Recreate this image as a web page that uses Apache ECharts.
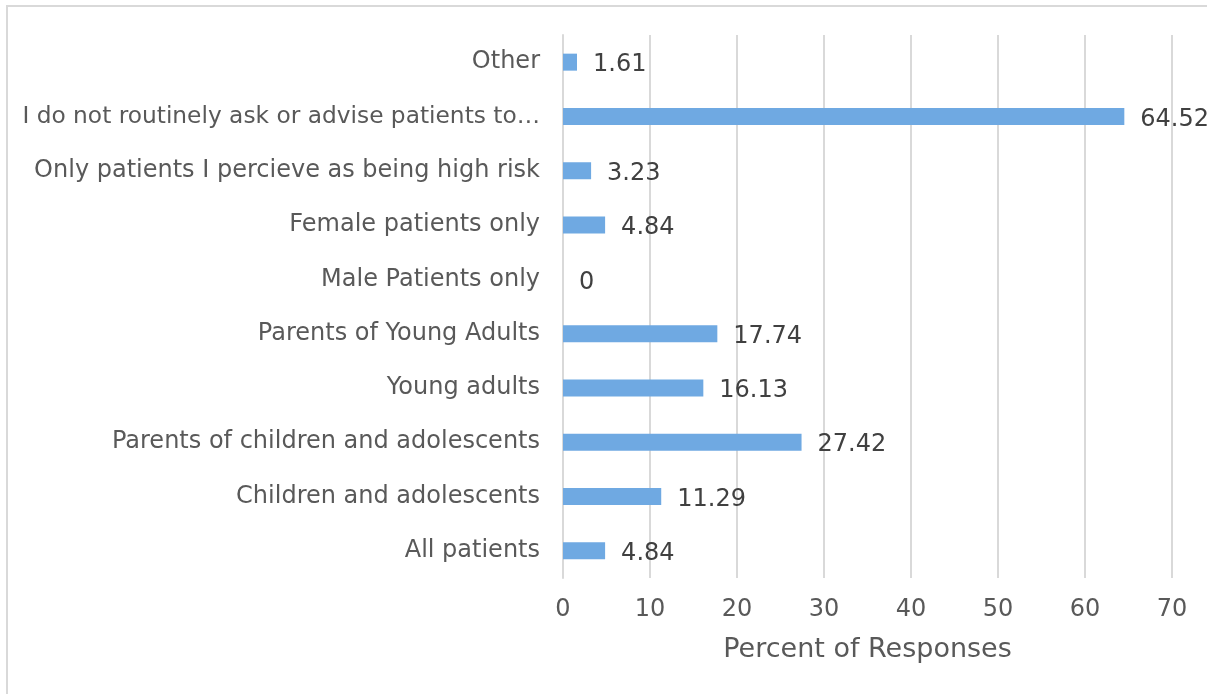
<!DOCTYPE html>
<html><head><meta charset="utf-8">
<script src="https://cdn.jsdelivr.net/npm/echarts@6/dist/echarts.min.js"></script>
<style>
html,body{margin:0;padding:0;background:#fff;}
#c{width:1207px;height:694px;}
#b{position:absolute;left:6px;top:5px;width:1300px;height:800px;border-left:2px solid #d9d9d9;border-top:2px solid #d9d9d9;pointer-events:none;}
</style></head>
<body><div id="c"></div><div id="b"></div>
<script>
const categories = ["All patients","Children and adolescents","Parents of children and adolescents","Young adults","Parents of Young Adults","Male Patients only","Female patients only","Only patients I percieve as being high risk","I do not routinely ask or advise patients to\u2026","Other"];
const values = [4.84,11.29,27.42,16.13,17.74,0,4.84,3.23,64.52,1.61];
const xTicks = [0,10,20,30,40,50,60,70];
const FONT = "DejaVu Sans";
const chart = echarts.init(document.getElementById('c'));
chart.setOption({
  animation:false,
  grid:{left:563,right:35,top:35,bottom:116,containLabel:false},
  xAxis:{type:'value',min:0,max:70,interval:10,
    name:'Percent of Responses',nameLocation:'middle',nameGap:58,
    nameTextStyle:{fontFamily:FONT,fontSize:27,color:'#595959'},
    axisLine:{show:false},axisTick:{show:false},
    axisLabel:{fontFamily:FONT,fontSize:24,color:'#595959',margin:20,formatter:v=>xTicks.includes(v)?String(v):''},
    splitLine:{show:true,lineStyle:{color:'#d9d9d9',width:2}}},
  yAxis:{type:'category',data:categories,
    axisLine:{show:true,lineStyle:{color:'#d9d9d9',width:2}},axisTick:{show:false},
    axisLabel:{fontFamily:FONT,fontSize:24,color:'#595959',margin:23,
      formatter:v=>v.length>43?'{s|'+v+'}':v,
      rich:{s:{fontFamily:FONT,fontSize:23.3,color:'#595959'}}}},
  series:[{type:'bar',data:values,barWidth:17,itemStyle:{color:'#6FA9E2'},
    label:{show:true,position:'right',distance:16,offset:[0,3],fontFamily:FONT,fontSize:24,color:'#404040'}}]
});
</script></body></html>
